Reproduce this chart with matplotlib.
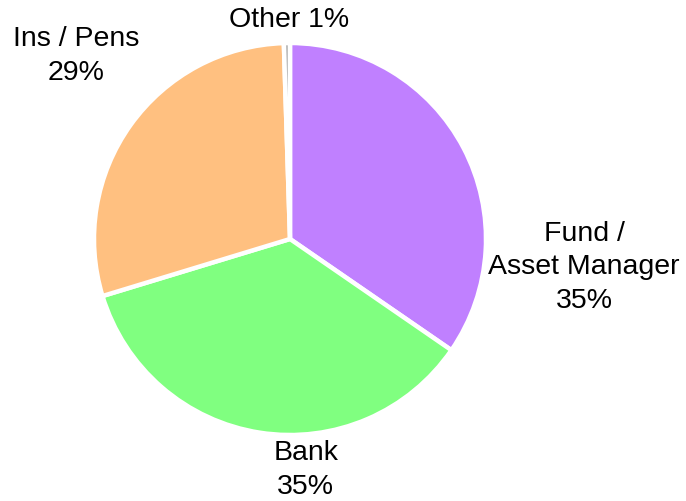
import matplotlib
matplotlib.use("Agg")
import matplotlib.pyplot as plt

labels = ["Fund /\nAsset Manager", "Bank", "Ins / Pens", "Other"]
values = [34.6, 35.7, 29.2, 0.5]
pct_labels = ["35%", "35%", "29%", "1%"]
colors = ["#C080FF", "#80FF80", "#FFC080", "#B0B0B0"]
label_pos = [(1.50, -0.14), (0.08, -1.175), (-1.09, 0.94), (-0.005, 1.12)]

W, H = 686, 502
fig = plt.figure(figsize=(W / 100, H / 100), dpi=100)
cx, cy, r = 290, 240, 196
ax = fig.add_axes([(cx - r) / W, (H - cy - r) / H, 2 * r / W, 2 * r / H])
ax.pie(values, colors=colors, startangle=90, counterclock=False, radius=1,
       wedgeprops=dict(edgecolor="white", linewidth=3.2))
ax.set_xlim(-1, 1)
ax.set_ylim(-1, 1)
ax.set_aspect("equal")
ax.axis("off")

for lab, pct, (x, y) in zip(labels, pct_labels, label_pos):
    txt = f"{lab} {pct}" if lab == "Other" else f"{lab}\n{pct}"
    ax.text(x, y, txt, ha="center", va="center", fontsize=20.5,
            family="Liberation Sans", linespacing=1.38, clip_on=False)

fig.savefig("out.png", dpi=100)
